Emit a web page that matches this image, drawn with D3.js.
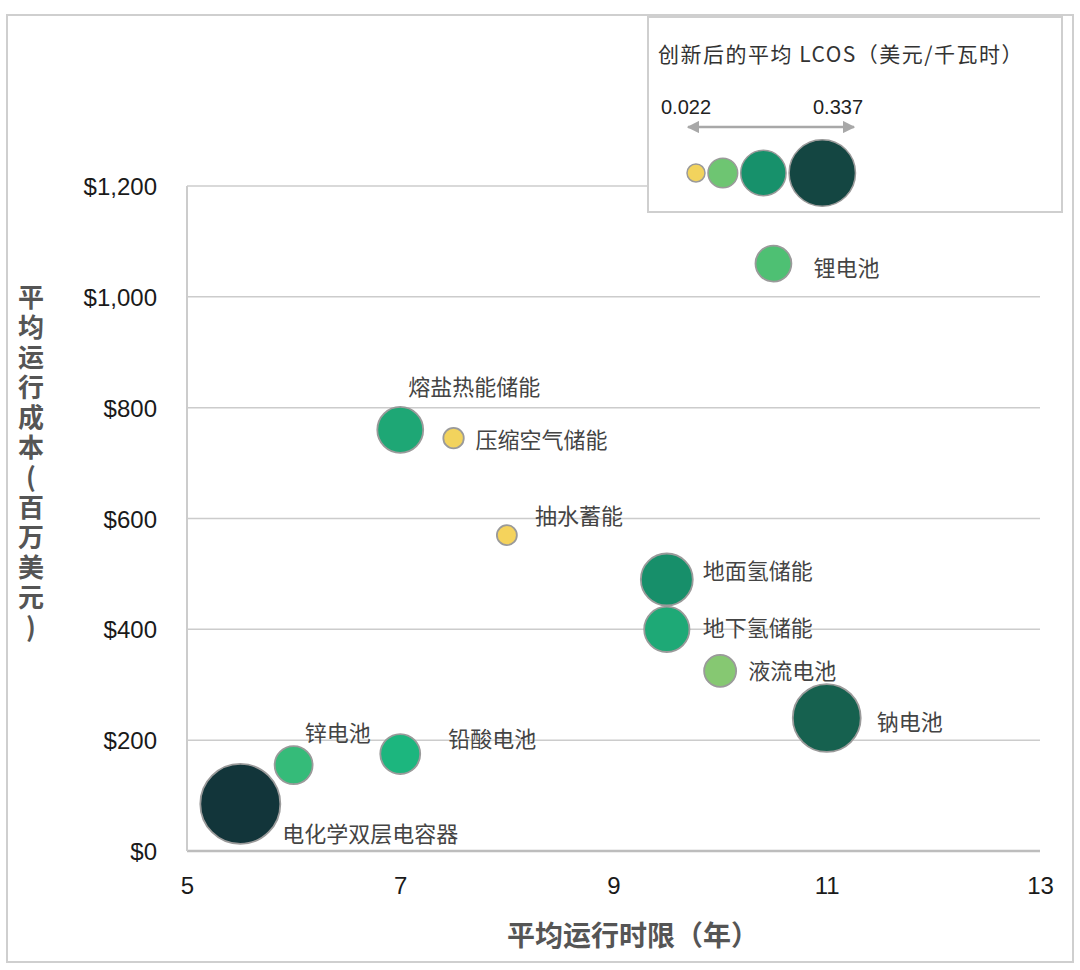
<!DOCTYPE html>
<html>
<head>
<meta charset="utf-8">
<script src="https://cdn.jsdelivr.net/npm/d3@7"></script>
<style>
  body { margin: 0; background: #fff; }
  svg { display: block; }
</style>
</head>
<body>
<svg class="chart" width="1080" height="970"></svg>
<script>
// data
var techNames = ['锂电池', '熔盐热能储能', '压缩空气储能', '抽水蓄能', '地面氢储能', '地下氢储能',
                 '液流电池', '钠电池', '锌电池', '铅酸电池', '电化学双层电容器'];
var lifeYears = [10.5, 7, 7.5, 8, 9.5, 9.5, 10, 11, 6, 7, 5.5];
var opCost    = [1060, 760, 745, 570, 490, 400, 325, 240, 155, 175, 85];
var lcos      = [0.068, 0.111, 0.022, 0.021, 0.142, 0.108, 0.054, 0.243, 0.076, 0.084, 0.337];
// label offsets [dx, dy] relative to the bubble centre
var labelPos  = [[40, 4], [8, -43], [22, 2], [28, -19], [36, -8], [36, -1], [28, 0], [50, 4], [11, -32], [48, -15], [42, 30]];

var xTicks = [5, 7, 9, 11, 13];
var yTicks = [0, 200, 400, 600, 800, 1000, 1200];
var legendVals = [0.022, 0.06, 0.14, 0.30];
var legendEnds = ['0.022', '0.337'];
var yTitle = '平均运行成本(百万美元)';
var xTitle = '平均运行时限（年）';
var legendTitle = '创新后的平均 LCOS（美元/千瓦时）';

var data = techNames.map((n, i) => ({ name: n, x: lifeYears[i], y: opCost[i], v: lcos[i], lab: labelPos[i] }));

var svg = d3.select('.chart');
var margin = { top: 186, right: 40, bottom: 119, left: 187 };

var xScale = d3.scaleLinear().domain([5, 13]).range([margin.left, 1040]);
var yScale = d3.scaleLinear().domain([0, 1200]).range([851, margin.top]);
var rScale = d3.scaleSqrt().domain([0, 0.337]).range([0, 40]);
var colorScale = d3.scaleLinear()
  .domain([0.021, 0.054, 0.068, 0.084, 0.111, 0.142, 0.243, 0.337])
  .range(['#f5d35c', '#86c872', '#4ec073', '#1cb67e', '#1ea775', '#178f6a', '#16614f', '#12353a']);

var fontCJK = '"Noto Sans CJK SC", "Noto Sans", sans-serif';
var fontNum = '"Liberation Sans", Arial, sans-serif';

// outer frame
svg.append('rect')
  .attr('x', 7).attr('y', 15).attr('width', 1066).attr('height', 947)
  .style('fill', 'none').style('stroke', '#cfcfcf').style('stroke-width', 2);

// gridlines
svg.append('g').attr('class', 'grid')
  .selectAll('line')
  .data(yTicks)
  .join('line')
  .attr('x1', margin.left).attr('x2', 1040)
  .attr('y1', d => yScale(d)).attr('y2', d => yScale(d))
  .style('stroke', d => d == 0 ? '#bdbdbd' : '#cccccc')
  .style('stroke-width', d => d == 0 ? 2.5 : 1.5);

// left edge of the plot
svg.append('line')
  .attr('x1', margin.left).attr('x2', margin.left)
  .attr('y1', yScale(1200)).attr('y2', yScale(0))
  .style('stroke', '#cccccc').style('stroke-width', 2);

// axes (labels only)
var yAxis = d3.axisLeft(yScale).tickValues(yTicks).tickSize(0).tickPadding(0)
  .tickFormat(d => '$' + d3.format(',')(d));
svg.append('g').attr('class', 'y-axis')
  .attr('transform', 'translate(157,0)')
  .call(yAxis)
  .call(g => g.select('.domain').remove())
  .call(g => g.selectAll('text')
    .attr('dy', '0.36em')
    .style('font-family', fontNum).style('font-size', '24px').style('fill', '#1a1a1a'));

var xAxis = d3.axisBottom(xScale).tickValues(xTicks).tickSize(0).tickPadding(0);
svg.append('g').attr('class', 'x-axis')
  .attr('transform', 'translate(0,877)')
  .call(xAxis)
  .call(g => g.select('.domain').remove())
  .call(g => g.selectAll('text')
    .attr('dy', '0.71em')
    .style('font-family', fontNum).style('font-size', '24px').style('fill', '#1a1a1a'));

// axis titles
svg.append('text')
  .attr('x', 633).attr('y', 946)
  .attr('text-anchor', 'middle')
  .style('font-family', fontCJK).style('font-size', '28px').style('font-weight', 'bold').style('fill', '#555')
  .text(xTitle);

svg.append('text')
  .attr('class', 'y-title')
  .attr('x', 31).attr('y', 284)
  .style('writing-mode', 'vertical-rl')
  .style('text-orientation', 'upright')
  .style('letter-spacing', '4px')
  .style('font-family', fontCJK).style('font-size', '26px').style('font-weight', 'bold').style('fill', '#555')
  .text(yTitle);

// bubbles
var bubbles = svg.append('g').attr('class', 'bubbles')
  .selectAll('g')
  .data(data)
  .join('g')
  .attr('transform', d => 'translate(' + xScale(d.x) + ',' + yScale(d.y) + ')');

bubbles.append('circle')
  .attr('r', d => rScale(d.v))
  .style('fill', d => colorScale(d.v))
  .style('stroke', '#9a9a9a')
  .style('stroke-width', 1.8);

bubbles.append('text')
  .attr('x', d => d.lab[0])
  .attr('y', d => d.lab[1])
  .attr('dy', '0.36em')
  .style('font-family', fontCJK).style('font-size', '22px').style('fill', '#444')
  .text(d => d.name);

// legend box
var legend = svg.append('g').attr('class', 'legend');
legend.append('rect')
  .attr('x', 648).attr('y', 17).attr('width', 414).attr('height', 195)
  .style('fill', '#fff').style('stroke', '#cfcfcf').style('stroke-width', 2);

legend.append('text')
  .attr('x', 658).attr('y', 62)
  .style('font-family', fontCJK).style('font-size', '21px').style('letter-spacing', '1.5px').style('fill', '#333')
  .text(legendTitle);

var legR = legendVals.map(v => rScale(v) * 0.88);
var legX = [];
var cx = 687;
legR.forEach((r, i) => { cx += (i == 0 ? r : legR[i - 1] + 3 + r); legX.push(cx); });

legend.selectAll('circle')
  .data(legendVals)
  .join('circle')
  .attr('cx', (d, i) => legX[i])
  .attr('cy', 173)
  .attr('r', (d, i) => legR[i])
  .style('fill', d => colorScale(d))
  .style('stroke', '#9a9a9a')
  .style('stroke-width', 1.5);

// arrow
var defs = svg.append('defs');
['arrEnd', 'arrStart'].forEach((id, i) => {
  defs.append('marker')
    .attr('id', id).attr('viewBox', '0 0 10 10')
    .attr('refX', 9).attr('refY', 5)
    .attr('markerWidth', 5).attr('markerHeight', 5)
    .attr('orient', i == 0 ? 'auto' : 'auto-start-reverse')
    .append('path').attr('d', 'M0,0 L10,5 L0,10 z').style('fill', '#a8a8a8');
});
legend.append('line')
  .attr('x1', 688).attr('x2', 854).attr('y1', 127).attr('y2', 127)
  .style('stroke', '#a8a8a8').style('stroke-width', 2.5)
  .attr('marker-end', 'url(#arrEnd)').attr('marker-start', 'url(#arrStart)');

legend.selectAll('.endLabel')
  .data(legendEnds)
  .join('text')
  .attr('class', 'endLabel')
  .attr('x', (d, i) => i == 0 ? 686 : 838)
  .attr('y', 114)
  .attr('text-anchor', 'middle')
  .style('font-family', fontNum).style('font-size', '20px').style('fill', '#222')
  .text(d => d);
</script>
</body>
</html>
